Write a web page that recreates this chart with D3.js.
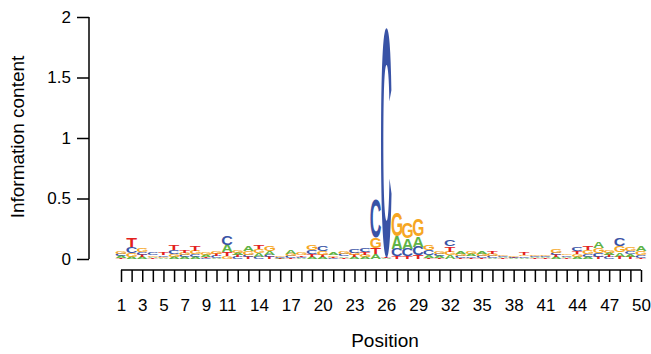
<!DOCTYPE html>
<html>
<head>
<meta charset="utf-8">
<script src="https://cdn.jsdelivr.net/npm/d3@7"></script>
<style>
  body { margin: 0; background: #fff; }
  .axis text { font-family: 'Liberation Sans', Arial, sans-serif; font-size: 17px; fill: #000; }
</style>
</head>
<body>
<div id="container"></div>
<script>
// information content (bits) per letter, positions 1..50
const positions = d3.range(1, 51);
const bitsA = [0.015, 0.02, 0.015, 0.01, 0.01, 0.02, 0.015, 0.02, 0.015, 0.01,
               0.06, 0.02, 0.04, 0.03, 0.03, 0.005, 0.03, 0.01, 0.02, 0.015,
               0.015, 0.012, 0.015, 0.015, 0.04, 0.004, 0.11, 0.09, 0.09, 0.02,
               0.015, 0.03, 0.025, 0.015, 0.02, 0.01, 0.008, 0.005, 0.01, 0.01,
               0.008, 0.015, 0.01, 0.015, 0.02, 0.05, 0.02, 0.035, 0.025, 0.045];
const bitsC = [0.02, 0.05, 0.025, 0.015, 0.012, 0.035, 0.015, 0.02, 0.01, 0.015,
               0.07, 0.015, 0.02, 0.02, 0.02, 0.005, 0.015, 0.01, 0.035, 0.045,
               0.01, 0.015, 0.03, 0.03, 0.32, 1.9, 0.06, 0.06, 0.07, 0.04,
               0.015, 0.05, 0.015, 0.012, 0.015, 0.015, 0.008, 0.006, 0.012, 0.01,
               0.01, 0.02, 0.012, 0.035, 0.025, 0.03, 0.015, 0.06, 0.025, 0.025];
const bitsG = [0.025, 0.03, 0.03, 0.012, 0.01, 0.02, 0.02, 0.03, 0.015, 0.02,
               0.025, 0.025, 0.03, 0.03, 0.045, 0.008, 0.02, 0.015, 0.04, 0.03,
               0.012, 0.015, 0.02, 0.02, 0.09, 0.004, 0.19, 0.13, 0.14, 0.04,
               0.02, 0.03, 0.02, 0.015, 0.015, 0.015, 0.008, 0.006, 0.012, 0.012,
               0.01, 0.03, 0.012, 0.025, 0.03, 0.045, 0.02, 0.05, 0.03, 0.035];
const bitsT = [0.01, 0.07, 0.015, 0.008, 0.015, 0.045, 0.02, 0.04, 0.01, 0.015,
               0.03, 0.015, 0.015, 0.035, 0.015, 0.004, 0.01, 0.012, 0.02, 0.02,
               0.01, 0.01, 0.015, 0.025, 0.05, 0.004, 0.02, 0.02, 0.03, 0.01,
               0.01, 0.045, 0.01, 0.01, 0.012, 0.015, 0.006, 0.005, 0.015, 0.008,
               0.006, 0.015, 0.008, 0.025, 0.03, 0.015, 0.015, 0.02, 0.015, 0.01];
const yTicks = [0, 0.5, 1, 1.5, 2];
const xLabels = [1, 3, 5, 7, 9, 11, 14, 17, 20, 23, 26, 29, 32, 35, 38, 41, 44, 47, 50];

const letterColor = {A: '#5fb346', C: '#3953a6', G: '#f6a623', T: '#e3211c'};
const logoFont = "bold 100px 'Liberation Sans'";

const width = 651, height = 354;

const svg = d3.select('#container')
    .append('svg')
    .attr('width', width)
    .attr('height', height);

const x = d3.scaleLinear()
    .domain([0.5, 50.5])
    .range([115.7, 646.3]);

const y = d3.scaleLinear()
    .domain([0, 2])
    .range([259, 17]);

// glyph ink boxes so every letter can be stretched to fill its cell
const ctx = document.createElement('canvas').getContext('2d');
ctx.font = logoFont;
const metrics = {};
for (const l of ['A', 'C', 'G', 'T']) {
    const m = ctx.measureText(l);
    metrics[l] = {
        left: m.actualBoundingBoxLeft,
        asc: m.actualBoundingBoxAscent,
        w: m.actualBoundingBoxLeft + m.actualBoundingBoxRight,
        h: m.actualBoundingBoxAscent + m.actualBoundingBoxDescent
    };
}

// stack letters per position, smallest at bottom
const stacks = [];
positions.forEach((p, i) => {
    const col = [
        {letter: 'A', bits: bitsA[i]},
        {letter: 'C', bits: bitsC[i]},
        {letter: 'G', bits: bitsG[i]},
        {letter: 'T', bits: bitsT[i]}
    ].sort((a, b) => a.bits - b.bits);
    let base = 0;
    col.forEach(d => {
        stacks.push({pos: p, letter: d.letter, y0: base, y1: base + d.bits});
        base += d.bits;
    });
});

const logo = svg.append('g').attr('class', 'logo');

logo.selectAll('text')
    .data(stacks)
    .join('text')
    .text(d => d.letter)
    .attr('x', d => metrics[d.letter].left)
    .attr('y', d => metrics[d.letter].asc)
    .style('font', logoFont)
    .attr('fill', d => letterColor[d.letter])
    .attr('transform', d => {
        const m = metrics[d.letter];
        const x0 = x(d.pos - 0.5), x1 = x(d.pos + 0.5);
        const top = y(d.y1), bottom = y(d.y0);
        return `translate(${x0},${top}) scale(${(x1 - x0) / m.w},${(bottom - top) / m.h})`;
    });

// y axis
const yAxis = svg.append('g')
    .attr('class', 'axis')
    .attr('transform', 'translate(89,0)')
    .call(d3.axisLeft(y)
        .tickValues(yTicks)
        .tickSize(12)
        .tickSizeOuter(0)
        .tickPadding(6)
        .tickFormat(d3.format('~g')));
yAxis.selectAll('path, line').attr('stroke', '#000').attr('stroke-width', 1.5);
yAxis.select('.domain').attr('d', `M0,${y(0)}V${y(2)}`);

// x axis
const xAxis = svg.append('g')
    .attr('class', 'axis')
    .attr('transform', 'translate(0,270)')
    .call(d3.axisBottom(x)
        .tickValues(positions)
        .tickSize(12)
        .tickSizeOuter(0)
        .tickPadding(17)
        .tickFormat(d => xLabels.includes(d) ? d : ''));
xAxis.selectAll('path, line').attr('stroke', '#000').attr('stroke-width', 1.5);
xAxis.select('.domain').attr('d', `M${x(1)},0H${x(50)}`);

svg.append('text')
    .attr('text-anchor', 'middle')
    .attr('x', 385)
    .attr('y', 347)
    .text('Position')
    .style('font-family', "'Liberation Sans', Arial, sans-serif")
    .style('font-size', '19px');

svg.append('text')
    .attr('text-anchor', 'middle')
    .attr('transform', 'translate(24,137) rotate(-90)')
    .text('Information content')
    .style('font-family', "'Liberation Sans', Arial, sans-serif")
    .style('font-size', '19px');
</script>
</body>
</html>
